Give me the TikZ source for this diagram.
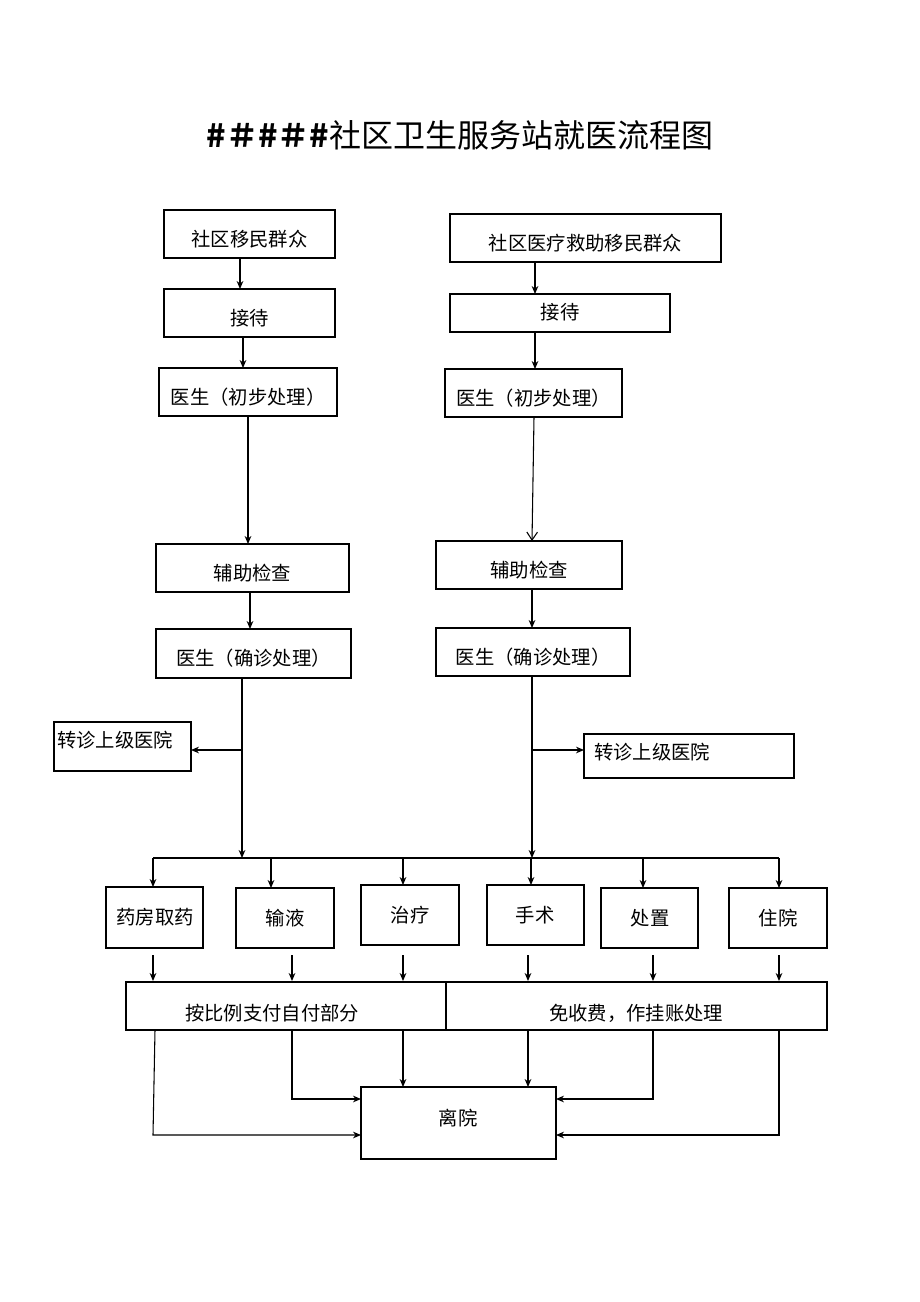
\documentclass[tikz,border=0pt]{standalone}
\usepackage{fontspec}
\setmainfont{Noto Sans CJK SC}
\usetikzlibrary{arrows.meta}
\begin{document}
\begin{tikzpicture}[x=0.75pt,y=-0.75pt,
  bx/.style={draw,line width=0.8pt,inner sep=0pt},
  t/.style={font=\fontsize{14.5}{16}\selectfont},
  ar/.style={line width=0.8pt,-{Stealth[length=6pt,width=5pt]}},
  ln/.style={line width=0.8pt}]
\useasboundingbox (0,0) rectangle (920,1302);
\node[font=\fontsize{24}{28}\selectfont] (title) at (460,135) {\textbf{\#＃\#＃\#}社区卫生服务站就医流程图};
\newcommand{\bx}[6]{\draw[bx] (#2,#3) rectangle (#4,#5); \node[t] (#1) at ({(#2+#4)/2},{(#3+#5)/2+5}) {#6};}
\bx{a1}{164}{210}{335}{258}{社区移民群众}
\bx{a2}{164}{289}{335}{337}{接待}
\bx{a3}{159}{368}{337}{416}{医生（初步处理）}
\bx{a4}{156}{544}{349}{592}{辅助检查}
\bx{a5}{156}{629}{351}{678}{医生（确诊处理）}
\draw[bx] (54,722) rectangle (191,771); \node[t] (tl) at (115,740) {转诊上级医院};
\bx{b1}{450}{214}{721}{262}{社区医疗救助移民群众}
\draw[bx] (450,294) rectangle (670,332); \node[t] (b2) at (560,312) {接待};
\bx{b3}{445}{369}{622}{417}{医生（初步处理）}
\bx{b4}{436}{541}{622}{589}{辅助检查}
\bx{b5}{436}{628}{630}{676}{医生（确诊处理）}
\draw[bx] (584,734) rectangle (794,778); \node[t] (tr) at (652,752) {转诊上级医院};
\draw[bx] (106,887) rectangle (203,948); \node[t] (c1) at (155,917) {药房取药};
\draw[bx] (236,888) rectangle (334,948); \node[t] (c2) at (285,918) {输液};
\draw[bx] (361,885) rectangle (459,945); \node[t] (c3) at (410,915) {治疗};
\draw[bx] (487,885) rectangle (584,945); \node[t] (c4) at (535,915) {手术};
\draw[bx] (601,888) rectangle (698,948); \node[t] (c5) at (650,918) {处置};
\draw[bx] (729,888) rectangle (827,948); \node[t] (c6) at (778,918) {住院};
\draw[bx] (126,982) rectangle (446,1030); \node[t] (p1) at (272,1013) {按比例支付自付部分};
\draw[bx] (446,982) rectangle (827,1030); \node[t] (p2) at (636,1013) {免收费，作挂账处理};
\draw[bx] (361,1087) rectangle (556,1159); \node[t] (ly) at (458,1118) {离院};
% left column
\draw[ar] (240,258) -- (240,289);
\draw[ar] (243,337) -- (243,368);
\draw[ar] (248,416) -- (248,544);
\draw[ar] (250,592) -- (250,629);
\draw[ar] (242,678) -- (242,858);
\draw[ar] (242,750) -- (191,750);
% right column
\draw[ar] (535,262) -- (535,294);
\draw[ar] (535,332) -- (535,369);
\draw[ln,-{Straight Barb[length=6pt,width=8pt]}] (534,417) -- (532,541);
\draw[ar] (532,589) -- (532,628);
\draw[ar] (532,676) -- (532,858);
\draw[ar] (532,750) -- (584,750);
% bus
\draw[ln] (153,858) -- (779,858);
\foreach \x/\y in {153/887,271/888,403/885,531/885,643/888,779/888} \draw[ar] (\x,858) -- (\x,\y);
\foreach \x in {153,292,403,528,653,779} \draw[ar] (\x,955) -- (\x,981);
% to exit
\draw[ar] (155,1030) -- (153,1135) -- (361,1135);
\draw[ar] (292,1030) -- (292,1099) -- (361,1099);
\draw[ar] (403,1030) -- (403,1087);
\draw[ar] (528,1030) -- (528,1087);
\draw[ar] (653,1030) -- (653,1099) -- (556,1099);
\draw[ar] (779,1030) -- (779,1135) -- (556,1135);
\end{tikzpicture}
\end{document}
